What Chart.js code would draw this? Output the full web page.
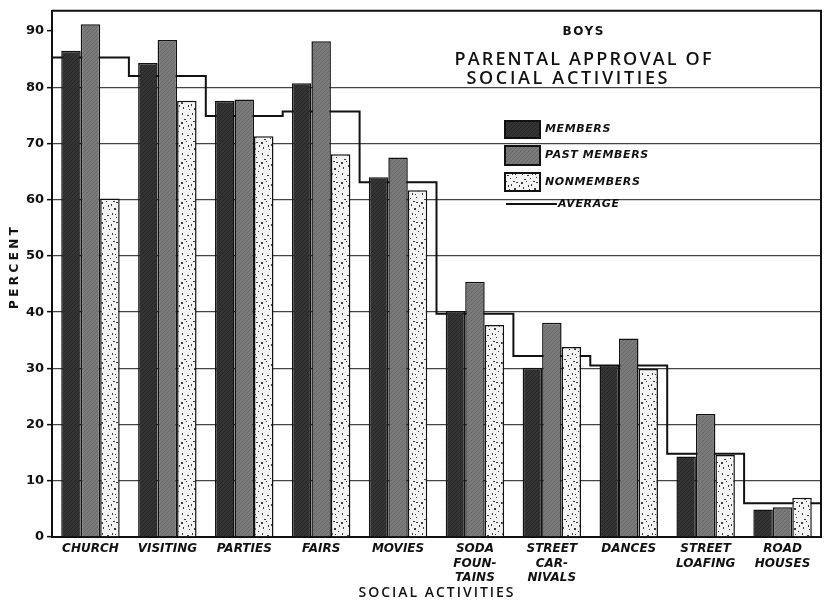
<!DOCTYPE html>
<html>
<head>
<meta charset="utf-8">
<script src="https://cdn.jsdelivr.net/npm/chart.js@4"></script>
<style>
  html, body { margin: 0; padding: 0; background: #fff; }
  canvas { display: block; }
</style>
</head>
<body>
<canvas id="c" width="824" height="603"></canvas>
<script>
// ---- data ----
const categories = [['CHURCH'], ['VISITING'], ['PARTIES'], ['FAIRS'], ['MOVIES'],
  ['SODA', 'FOUN-', 'TAINS'], ['STREET', 'CAR-', 'NIVALS'], ['DANCES'],
  ['STREET', 'LOAFING'], ['ROAD', 'HOUSES']];
const members     = [86.5, 84.3, 77.6, 80.7, 64.0, 40.2, 30.1, 30.6, 14.3, 4.9];
const pastMembers = [91.2, 88.4, 77.8, 88.2, 67.5, 45.4, 38.1, 35.3, 21.9, 5.3];
const nonmembers  = [60.2, 77.6, 71.3, 68.1, 61.7, 37.7, 33.8, 29.9, 14.6, 7.0];
const average     = [85.3, 82.0, 74.9, 75.7, 63.1, 39.7, 32.2, 30.5, 14.8, 6.0];
const yTicks = [0, 10, 20, 30, 40, 50, 60, 70, 80, 90];
const seriesLabels = ['MEMBERS', 'PAST MEMBERS', 'NONMEMBERS', 'AVERAGE'];

const canvas = document.getElementById('c');
const ctx = canvas.getContext('2d');

function makePattern(base, size, draw) {
  const c = document.createElement('canvas');
  c.width = c.height = size;
  const g = c.getContext('2d');
  g.fillStyle = base;
  g.fillRect(0, 0, size, size);
  draw(g, size);
  return ctx.createPattern(c, 'repeat');
}
function hatch(color, step) {
  return (g, s) => {
    g.strokeStyle = color; g.lineWidth = 1;
    for (let k = -s; k < 2 * s; k += step) {
      g.beginPath(); g.moveTo(k, s); g.lineTo(k + s, 0); g.stroke();
    }
  };
}
const dotSpots = [[1,2],[6,1],[11,4],[16,2],[3,7],[9,9],[14,8],[18,11],[2,13],[7,15],[12,13],[16,17],[4,19],[10,18],[19,5],[13,1],[8,5],[15,14]];
const patMembers = makePattern('#343434', 8, hatch('#262626', 4));
const patPast = makePattern('#7a7a7a', 8, hatch('#686868', 4));
const patNon = makePattern('#f3f3f3', 20, (g) => {
  g.fillStyle = '#3a3a3a';
  dotSpots.forEach(([x, y], i) => g.fillRect(x, y, (i % 3 === 0) ? 2 : 1, (i % 2 === 0) ? 2 : 1));
});

function spacedText(c, text, cx, cy, font, width) {
  c.font = font;
  c.letterSpacing = '0px';
  const w = c.measureText(text).width;
  const ls = (width - w) / Math.max(1, text.length - 1);
  c.letterSpacing = ls + 'px';
  c.textAlign = 'left';
  c.textBaseline = 'middle';
  c.fillText(text, cx - width / 2, cy);
  c.letterSpacing = '0px';
}

const decorations = {
  id: 'decorations',
  afterDraw(chart) {
    const c = chart.ctx;
    const a = chart.chartArea;
    c.save();
    c.strokeStyle = '#111'; c.lineWidth = 2;
    c.beginPath();
    c.moveTo(a.left, a.top); c.lineTo(a.right, a.top); c.lineTo(a.right, a.bottom);
    c.stroke();

    c.fillStyle = '#111';
    spacedText(c, 'BOYS', 583, 31.5, 'bold 12px "DejaVu Sans"', 41);
    spacedText(c, 'PARENTAL APPROVAL OF', 583, 60, '600 18px "Open Sans"', 257);
    c.fillStyle = '#fff';
    c.fillRect(463, 70, 215, 17);
    c.fillStyle = '#111';
    spacedText(c, 'SOCIAL ACTIVITIES', 567, 78.5, '600 18px "Open Sans"', 201);

    spacedText(c, 'SOCIAL ACTIVITIES', 436, 593, '600 14px "Open Sans"', 155);
    c.save();
    c.translate(15, 268);
    c.rotate(-Math.PI / 2);
    spacedText(c, 'PERCENT', 0, 0, 'bold 12px "DejaVu Sans"', 82);
    c.restore();

    const fills = [patMembers, patPast, patNon];
    const boxes = [[121, 17], [146, 19], [173, 18]];
    c.font = 'italic bold 11px "DejaVu Sans"';
    c.textAlign = 'left'; c.textBaseline = 'middle';
    boxes.forEach(([y, h], i) => {
      c.fillStyle = fills[i];
      c.fillRect(505, y, 35, h);
      c.strokeStyle = '#111'; c.lineWidth = 2;
      c.strokeRect(505, y, 35, h);
      c.fillStyle = '#111';
      c.letterSpacing = '0.6px';
      c.fillText(seriesLabels[i], 545, y + h / 2);
    });
    c.strokeStyle = '#111'; c.lineWidth = 2;
    c.beginPath(); c.moveTo(506, 204); c.lineTo(557, 204); c.stroke();
    c.fillText(seriesLabels[3], 558, 204);
    c.letterSpacing = '0px';
    c.restore();
  }
};

const barPoints = (arr) => arr.map((v, i) => ({ x: i + 0.5, y: v }));

new Chart(ctx, {
  type: 'bar',
  data: {
    datasets: [
      { label: seriesLabels[0], data: barPoints(members), backgroundColor: patMembers,
        borderColor: '#111', borderWidth: 1.5, order: 1 },
      { label: seriesLabels[1], data: barPoints(pastMembers), backgroundColor: patPast,
        borderColor: '#111', borderWidth: 1.5, order: 1 },
      { label: seriesLabels[2], data: barPoints(nonmembers), backgroundColor: patNon,
        borderColor: '#111', borderWidth: 1.5, order: 1 },
      { type: 'line', label: seriesLabels[3],
        data: average.map((v, i) => ({ x: i, y: v })).concat([{ x: average.length, y: average[average.length - 1] }]),
        stepped: 'before', borderColor: '#111', borderWidth: 2, pointRadius: 0,
        fill: false, order: 2 }
    ]
  },
  options: {
    responsive: false,
    animation: false,
    events: [],
    layout: { padding: { top: 5, right: 3, left: 0, bottom: 0 } },
    datasets: { bar: { categoryPercentage: 0.76, barPercentage: 1.0 } },
    plugins: { legend: { display: false }, tooltip: { enabled: false }, title: { display: false } },
    scales: {
      x: {
        type: 'linear',
        min: 0, max: categories.length,
        offset: false,
        grid: { display: false, drawTicks: false, offset: false },
        border: { display: true, color: '#111', width: 2 },
        afterBuildTicks(scale) {
          scale.ticks = categories.map((_, i) => ({ value: i + 0.5 }));
        },
        ticks: {
          color: '#111', padding: 5, maxRotation: 0, minRotation: 0, autoSkip: false,
          callback: (value) => categories[Math.floor(value)],
          font: { family: '"DejaVu Sans"', size: 12, style: 'italic', weight: 'bold', lineHeight: 1.2 }
        },
        afterFit(scale) { scale.height = 66; }
      },
      y: {
        min: 0, max: 93.6,
        ticks: {
          stepSize: 10, color: '#111', padding: 3,
          font: { family: '"DejaVu Sans"', size: 13, weight: 'bold' }
        },
        afterBuildTicks(scale) {
          scale.ticks = yTicks.map(v => ({ value: v }));
        },
        grid: {
          color: (c) => (c.tick && (c.tick.value === 90 || c.tick.value === 0)) ? 'rgba(0,0,0,0)' : '#444',
          lineWidth: 1.3,
          tickColor: '#111', tickLength: 5, tickWidth: 1.5
        },
        border: { display: true, color: '#111', width: 2 },
        afterFit(scale) { scale.width = 52; }
      }
    }
  },
  plugins: [decorations]
});
</script>
</body>
</html>
